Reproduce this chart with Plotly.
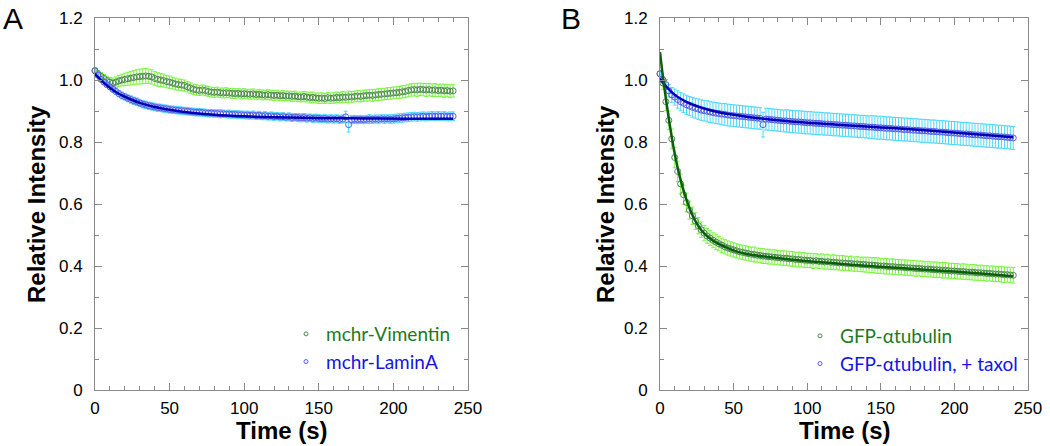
import plotly.graph_objects as go

# ---------------- data ----------------
time_s = list(range(0, 241, 2))  # 0..240 s, sampled every 2 s

vimentin = [
    1.030, 1.020, 1.012, 1.005, 0.998, 0.993, 0.990, 0.993, 0.997, 1.000,
    1.002, 1.004, 1.006, 1.008, 1.010, 1.011, 1.012, 1.013, 1.012, 1.010,
    1.005, 1.002, 1.000, 0.998, 0.995, 0.993, 0.990, 0.987, 0.985, 0.984,
    0.982, 0.978, 0.974, 0.970, 0.968, 0.966, 0.968, 0.966, 0.963, 0.961,
    0.960, 0.961, 0.959, 0.958, 0.959, 0.958, 0.957, 0.956, 0.957, 0.955,
    0.956, 0.955, 0.954, 0.955, 0.953, 0.954, 0.952, 0.951, 0.953, 0.951,
    0.950, 0.951, 0.949, 0.950, 0.948, 0.949, 0.947, 0.948, 0.946, 0.945,
    0.947, 0.945, 0.943, 0.944, 0.942, 0.941, 0.942, 0.940, 0.943, 0.941,
    0.942, 0.944, 0.943, 0.945, 0.944, 0.946, 0.945, 0.947, 0.948, 0.947,
    0.949, 0.950, 0.951, 0.950, 0.952, 0.953, 0.954, 0.955, 0.956, 0.957,
    0.958, 0.959, 0.960, 0.962, 0.963, 0.966, 0.968, 0.969, 0.968, 0.970,
    0.969, 0.968, 0.969, 0.967, 0.968, 0.966, 0.967, 0.965, 0.966, 0.964,
    0.965,
]
vimentin_err = [
    0.008, 0.010, 0.012, 0.013, 0.014, 0.015, 0.016, 0.017, 0.018, 0.019,
    0.020, 0.021, 0.022, 0.023, 0.023, 0.024, 0.024, 0.024, 0.023, 0.023,
    0.022, 0.022, 0.021, 0.021, 0.020, 0.020, 0.019, 0.019, 0.018, 0.018,
    0.018, 0.017, 0.017, 0.017, 0.017, 0.016, 0.016, 0.016, 0.016, 0.016,
    0.016, 0.016, 0.015, 0.016, 0.016, 0.015, 0.016, 0.016, 0.015, 0.016,
    0.016, 0.015, 0.016, 0.016, 0.015, 0.016, 0.016, 0.015, 0.016, 0.016,
    0.016, 0.016, 0.015, 0.016, 0.016, 0.015, 0.016, 0.016, 0.015, 0.016,
    0.016, 0.016, 0.017, 0.017, 0.016, 0.017, 0.017, 0.016, 0.017, 0.017,
    0.017, 0.017, 0.017, 0.018, 0.017, 0.018, 0.018, 0.017, 0.018, 0.018,
    0.018, 0.018, 0.018, 0.019, 0.018, 0.019, 0.019, 0.018, 0.019, 0.019,
    0.019, 0.019, 0.019, 0.020, 0.020, 0.020, 0.020, 0.020, 0.021, 0.020,
    0.020, 0.021, 0.020, 0.020, 0.021, 0.020, 0.020, 0.021, 0.020, 0.020,
    0.020,
]

lamina = [
    1.030, 1.015, 1.002, 0.993, 0.985, 0.978, 0.970, 0.963, 0.956, 0.950,
    0.946, 0.941, 0.937, 0.933, 0.930, 0.926, 0.922, 0.920, 0.917, 0.915,
    0.913, 0.911, 0.910, 0.908, 0.907, 0.905, 0.904, 0.903, 0.902, 0.901,
    0.900, 0.899, 0.898, 0.897, 0.896, 0.896, 0.895, 0.894, 0.893, 0.893,
    0.892, 0.892, 0.891, 0.891, 0.890, 0.890, 0.889, 0.889, 0.888, 0.888,
    0.887, 0.887, 0.886, 0.887, 0.885, 0.886, 0.884, 0.885, 0.883, 0.884,
    0.882, 0.883, 0.881, 0.882, 0.880, 0.881, 0.879, 0.880, 0.879, 0.878,
    0.879, 0.877, 0.878, 0.876, 0.877, 0.876, 0.875, 0.876, 0.874, 0.875,
    0.874, 0.875, 0.873, 0.874, 0.881, 0.856, 0.872, 0.873, 0.872, 0.873,
    0.872, 0.873, 0.874, 0.873, 0.874, 0.873, 0.875, 0.874, 0.875, 0.874,
    0.875, 0.876, 0.877, 0.878, 0.879, 0.880, 0.881, 0.882, 0.881, 0.882,
    0.883, 0.882, 0.883, 0.884, 0.883, 0.884, 0.883, 0.884, 0.882, 0.883,
    0.883,
]
lamina_err = [
    0.004, 0.005, 0.006, 0.007, 0.008, 0.009, 0.009, 0.010, 0.010, 0.011,
    0.011, 0.011, 0.012, 0.012, 0.012, 0.012, 0.012, 0.012, 0.012, 0.012,
    0.012, 0.012, 0.012, 0.012, 0.012, 0.012, 0.012, 0.012, 0.012, 0.012,
    0.012, 0.012, 0.012, 0.012, 0.012, 0.012, 0.012, 0.012, 0.012, 0.012,
    0.012, 0.012, 0.013, 0.012, 0.012, 0.013, 0.012, 0.012, 0.013, 0.012,
    0.012, 0.013, 0.012, 0.013, 0.012, 0.013, 0.012, 0.013, 0.012, 0.013,
    0.013, 0.012, 0.013, 0.013, 0.012, 0.013, 0.013, 0.012, 0.013, 0.013,
    0.013, 0.013, 0.012, 0.013, 0.013, 0.013, 0.012, 0.013, 0.013, 0.013,
    0.013, 0.013, 0.013, 0.013, 0.018, 0.024, 0.013, 0.013, 0.013, 0.013,
    0.013, 0.013, 0.014, 0.013, 0.013, 0.014, 0.013, 0.014, 0.013, 0.014,
    0.014, 0.014, 0.014, 0.014, 0.014, 0.014, 0.014, 0.014, 0.014, 0.014,
    0.014, 0.014, 0.014, 0.014, 0.014, 0.014, 0.014, 0.014, 0.014, 0.014,
    0.014,
]

fit_time_a = [0, 5, 10, 15, 20, 30, 40, 50, 60, 80, 100, 120, 150, 180, 210, 240]
lamina_fit = [1.020, 0.995, 0.975, 0.958, 0.946, 0.926, 0.913, 0.904, 0.897,
              0.888, 0.883, 0.880, 0.877, 0.876, 0.875, 0.875]

tubulin = [
    1.020, 0.990, 0.930, 0.870, 0.810, 0.750, 0.705, 0.665, 0.630, 0.605,
    0.580, 0.562, 0.545, 0.530, 0.517, 0.506, 0.497, 0.490, 0.483, 0.477,
    0.472, 0.467, 0.462, 0.458, 0.455, 0.452, 0.449, 0.446, 0.444, 0.442,
    0.440, 0.438, 0.437, 0.435, 0.434, 0.432, 0.431, 0.430, 0.429, 0.428,
    0.427, 0.426, 0.425, 0.425, 0.423, 0.423, 0.421, 0.421, 0.420, 0.419,
    0.418, 0.418, 0.416, 0.417, 0.415, 0.415, 0.413, 0.414, 0.412, 0.412,
    0.411, 0.410, 0.410, 0.409, 0.408, 0.408, 0.406, 0.407, 0.405, 0.405,
    0.404, 0.403, 0.403, 0.402, 0.401, 0.400, 0.400, 0.399, 0.398, 0.398,
    0.397, 0.396, 0.396, 0.395, 0.394, 0.394, 0.393, 0.392, 0.392, 0.391,
    0.390, 0.390, 0.389, 0.388, 0.388, 0.387, 0.386, 0.386, 0.385, 0.384,
    0.384, 0.383, 0.382, 0.382, 0.381, 0.380, 0.380, 0.379, 0.378, 0.378,
    0.377, 0.376, 0.376, 0.375, 0.374, 0.374, 0.373, 0.372, 0.372, 0.371,
    0.370,
]
tubulin_err = [
    0.010, 0.020, 0.028, 0.030, 0.032, 0.033, 0.033, 0.032, 0.031, 0.030,
    0.029, 0.028, 0.027, 0.026, 0.025, 0.025, 0.024, 0.024, 0.024, 0.024,
    0.023, 0.023, 0.023, 0.023, 0.023, 0.023, 0.023, 0.023, 0.023, 0.023,
    0.023, 0.023, 0.024, 0.023, 0.023, 0.024, 0.023, 0.024, 0.023, 0.024,
    0.023, 0.023, 0.024, 0.023, 0.023, 0.024, 0.023, 0.024, 0.023, 0.024,
    0.023, 0.023, 0.024, 0.023, 0.023, 0.024, 0.023, 0.024, 0.023, 0.024,
    0.023, 0.023, 0.024, 0.023, 0.023, 0.024, 0.023, 0.024, 0.023, 0.024,
    0.024, 0.025, 0.024, 0.025, 0.025, 0.024, 0.025, 0.025, 0.024, 0.025,
    0.024, 0.025, 0.024, 0.025, 0.025, 0.024, 0.025, 0.025, 0.024, 0.025,
    0.024, 0.025, 0.024, 0.025, 0.025, 0.024, 0.025, 0.025, 0.024, 0.025,
    0.024, 0.025, 0.024, 0.025, 0.025, 0.024, 0.025, 0.025, 0.024, 0.025,
    0.024, 0.025, 0.024, 0.025, 0.025, 0.024, 0.025, 0.025, 0.024, 0.025,
    0.025,
]

fit_time_b = [0, 2, 4, 6, 8, 10, 12, 15, 18, 21, 25, 30, 36, 45, 52, 60, 75, 90,
              110, 130, 155, 180, 200, 220, 240]
tubulin_fit = [1.090, 1.010, 0.940, 0.875, 0.815, 0.762, 0.717, 0.660, 0.613,
               0.575, 0.537, 0.505, 0.482, 0.460, 0.447, 0.438, 0.428, 0.420,
               0.412, 0.404, 0.396, 0.388, 0.382, 0.375, 0.367]

taxol = [
    1.020, 1.000, 0.985, 0.965, 0.952, 0.945, 0.937, 0.930, 0.925, 0.920,
    0.916, 0.912, 0.909, 0.906, 0.903, 0.901, 0.899, 0.897, 0.895, 0.893,
    0.892, 0.890, 0.889, 0.887, 0.886, 0.885, 0.884, 0.883, 0.882, 0.881,
    0.880, 0.879, 0.878, 0.877, 0.876, 0.856, 0.874, 0.873, 0.872, 0.871,
    0.870, 0.869, 0.868, 0.868, 0.867, 0.866, 0.865, 0.865, 0.864, 0.863,
    0.862, 0.862, 0.861, 0.860, 0.860, 0.859, 0.858, 0.858, 0.857, 0.856,
    0.856, 0.855, 0.854, 0.854, 0.853, 0.852, 0.852, 0.851, 0.850, 0.850,
    0.849, 0.848, 0.848, 0.847, 0.846, 0.846, 0.845, 0.844, 0.844, 0.843,
    0.842, 0.842, 0.841, 0.840, 0.840, 0.839, 0.838, 0.838, 0.837, 0.836,
    0.836, 0.835, 0.834, 0.834, 0.833, 0.832, 0.832, 0.831, 0.830, 0.829,
    0.829, 0.828, 0.827, 0.826, 0.826, 0.825, 0.824, 0.823, 0.823, 0.822,
    0.821, 0.820, 0.820, 0.819, 0.818, 0.817, 0.817, 0.816, 0.815, 0.814,
    0.813,
]
taxol_err = [
    0.004, 0.010, 0.016, 0.020, 0.024, 0.026, 0.028, 0.029, 0.030, 0.031,
    0.031, 0.032, 0.032, 0.033, 0.033, 0.033, 0.034, 0.034, 0.034, 0.034,
    0.034, 0.034, 0.035, 0.035, 0.035, 0.035, 0.035, 0.035, 0.035, 0.035,
    0.035, 0.035, 0.035, 0.035, 0.035, 0.040, 0.035, 0.035, 0.035, 0.035,
    0.035, 0.035, 0.035, 0.036, 0.036, 0.036, 0.036, 0.036, 0.036, 0.036,
    0.036, 0.036, 0.036, 0.036, 0.036, 0.036, 0.036, 0.036, 0.036, 0.036,
    0.036, 0.036, 0.036, 0.036, 0.036, 0.036, 0.036, 0.036, 0.036, 0.036,
    0.036, 0.036, 0.037, 0.037, 0.037, 0.037, 0.037, 0.037, 0.037, 0.037,
    0.037, 0.037, 0.037, 0.037, 0.037, 0.037, 0.037, 0.037, 0.037, 0.037,
    0.037, 0.037, 0.037, 0.037, 0.037, 0.037, 0.037, 0.037, 0.037, 0.037,
    0.037, 0.037, 0.037, 0.037, 0.037, 0.037, 0.037, 0.037, 0.037, 0.037,
    0.037, 0.037, 0.037, 0.037, 0.037, 0.037, 0.037, 0.037, 0.037, 0.037,
    0.037,
]

fit_time_c = [0, 5, 10, 15, 20, 30, 40, 50, 60, 80, 100, 120, 150, 180, 210, 240]
taxol_fit = [1.005, 0.975, 0.952, 0.937, 0.925, 0.908, 0.896, 0.888, 0.881,
             0.870, 0.862, 0.856, 0.847, 0.838, 0.827, 0.815]

y_tickvals = [0, 0.2, 0.4, 0.6, 0.8, 1.0, 1.2]
y_ticktext = ["0", "0.2", "0.4", "0.6", "0.8", "1.0", "1.2"]
x_tickvals = [0, 50, 100, 150, 200, 250]

legend_a_names = ["mchr-Vimentin", "mchr-LaminA"]
legend_b_names = ["GFP-αtubulin", "GFP-αtubulin, + taxol"]

# ---------------- styles ----------------
GREEN_MK = "#4e8a4e"
GREEN_ERR = "#7cf542"
GREEN_FIT = "#0b5e0b"
GREEN_TXT = "#1d7a1d"
BLUE_MK = "#5a5ae6"
BLUE_ERR = "#4fd8ff"
BLUE_FIT = "#0000b4"
BLUE_TXT = "#1414e6"
AXIS_GRAY = "#8a8a8a"
FONT = "Liberation Sans, Arial, sans-serif"
LEG_FONT = "Lato, Carlito, sans-serif"

fig = go.Figure()


def data_trace(x, y, err, mk, errc, xa, ya):
    return go.Scatter(
        x=x, y=y, mode="markers", showlegend=False,
        marker=dict(symbol="circle-open", size=6, color=mk, line=dict(width=1, color=mk)),
        error_y=dict(type="data", array=err, visible=True, color=errc,
                     thickness=1, width=2),
        xaxis=xa, yaxis=ya, cliponaxis=False,
    )


def legend_entry(name, mk, txt, xa, ya, legend):
    # legend-only entry with the small open circle used in the reference legend
    return go.Scatter(
        x=[None], y=[None], mode="markers",
        name=f"<span style='color:{txt}'>{name}</span>",
        marker=dict(symbol="circle-open", size=4, color=mk, line=dict(width=1, color=mk)),
        xaxis=xa, yaxis=ya, legend=legend, showlegend=True,
    )


def fit_trace(x, y, col, xa, ya):
    return go.Scatter(
        x=x, y=y, mode="lines", line=dict(color=col, width=2.5, shape="spline"),
        showlegend=False, xaxis=xa, yaxis=ya, hoverinfo="skip",
    )


# Panel A
fig.add_trace(data_trace(time_s, vimentin, vimentin_err, GREEN_MK, GREEN_ERR, "x", "y"))
fig.add_trace(data_trace(time_s, lamina, lamina_err, BLUE_MK, BLUE_ERR, "x", "y"))
fig.add_trace(fit_trace(fit_time_a, lamina_fit, BLUE_FIT, "x", "y"))
fig.add_trace(legend_entry(legend_a_names[0], GREEN_MK, GREEN_TXT, "x", "y", "legend"))
fig.add_trace(legend_entry(legend_a_names[1], BLUE_MK, BLUE_TXT, "x", "y", "legend"))

# Panel B
fig.add_trace(data_trace(time_s, tubulin, tubulin_err, GREEN_MK, GREEN_ERR, "x2", "y2"))
fig.add_trace(data_trace(time_s, taxol, taxol_err, BLUE_MK, BLUE_ERR, "x2", "y2"))
fig.add_trace(fit_trace(fit_time_c, taxol_fit, BLUE_FIT, "x2", "y2"))
fig.add_trace(fit_trace(fit_time_b, tubulin_fit, GREEN_FIT, "x2", "y2"))
fig.add_trace(legend_entry(legend_b_names[0], GREEN_MK, GREEN_TXT, "x2", "y2", "legend2"))
fig.add_trace(legend_entry(legend_b_names[1], BLUE_MK, BLUE_TXT, "x2", "y2", "legend2"))

W, H = 1050, 446
L, R, T, B = 95, 22, 18, 56          # plot box in page pixels
PW, PH = W - L - R, H - T - B


def px_x(px):
    return (px - L) / PW


def px_y(py):
    return (H - B - py) / PH


def xaxis_cfg(domain, anchor):
    return dict(
        anchor=anchor, domain=domain, range=[0, 250], tickvals=x_tickvals,
        ticks="inside", ticklen=7, tickwidth=1, tickcolor=AXIS_GRAY,
        minor=dict(dtick=10, tick0=0, ticks="inside", ticklen=4, tickcolor=AXIS_GRAY, showgrid=False),
        showline=True, linecolor=AXIS_GRAY, linewidth=1, mirror="ticks",
        showgrid=False, zeroline=False, automargin=False,
        tickfont=dict(family=FONT, size=17, color="black"),
        ticklabelstandoff=3,
    )


def yaxis_cfg(anchor):
    return dict(
        anchor=anchor, domain=[0, 1], range=[0, 1.2],
        tickvals=y_tickvals, ticktext=y_ticktext,
        ticks="inside", ticklen=7, tickwidth=1, tickcolor=AXIS_GRAY,
        minor=dict(dtick=0.1, tick0=0, ticks="inside", ticklen=4, tickcolor=AXIS_GRAY, showgrid=False),
        showline=True, linecolor=AXIS_GRAY, linewidth=1, mirror="ticks",
        showgrid=False, zeroline=False, automargin=False,
        tickfont=dict(family=FONT, size=17, color="black"),
        ticklabelstandoff=8,
    )


legend_common = dict(
    bgcolor="rgba(0,0,0,0)", borderwidth=0,
    font=dict(family=LEG_FONT, size=19),
    xanchor="left", yanchor="top", itemwidth=30, tracegroupgap=0,
)


def ann(text, x, y, size, angle=0):
    return dict(text=text, x=px_x(x), y=px_y(y), xref="paper", yref="paper",
                xanchor="center", yanchor="middle", textangle=angle,
                showarrow=False, font=dict(family=FONT, size=size, color="black"))


annotations = [
    ann("A", 13, 18, 30),
    ann("B", 571, 18, 30),
    ann("<b>Relative Intensity</b>", 36, 204, 24, -90),
    ann("<b>Relative Intensity</b>", 605, 204, 24, -90),
    ann("<b>Time (s)</b>", 282, 431, 24),
    ann("<b>Time (s)</b>", 845, 431, 24),
]

fig.update_layout(
    width=W, height=H,
    margin=dict(l=L, r=R, t=T, b=B),
    paper_bgcolor="white", plot_bgcolor="white",
    xaxis=xaxis_cfg([0, px_x(468)], "y"), yaxis=yaxis_cfg("x"),
    xaxis2=xaxis_cfg([px_x(660), 1], "y2"), yaxis2=yaxis_cfg("x2"),
    legend=dict(x=px_x(286), y=px_y(315), **legend_common),
    legend2=dict(x=px_x(800), y=px_y(317), **legend_common),
    annotations=annotations,
    showlegend=True,
)

# remove the browser's default 8 px body margin so the figure fills the window
fig.write_html(
    "out.html",
    config={"displayModeBar": False},
    post_script="document.body.style.margin='0';document.body.style.overflow='hidden';",
)
